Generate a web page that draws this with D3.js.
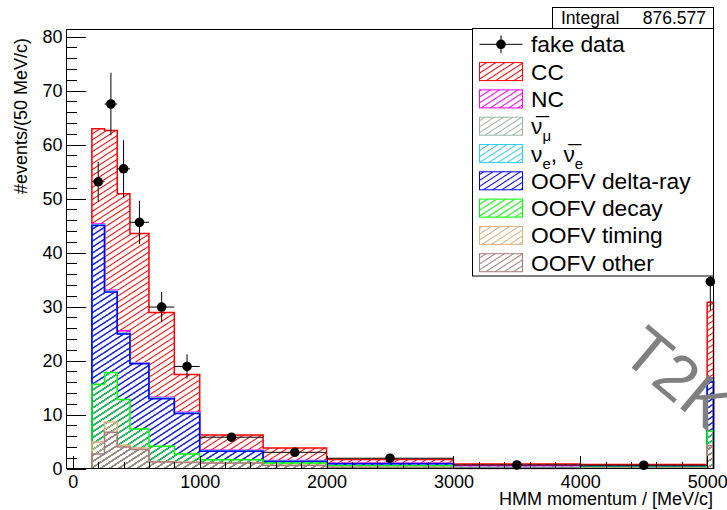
<!DOCTYPE html>
<html><head><meta charset="utf-8">
<script src="https://cdn.jsdelivr.net/npm/d3@7"></script>
<style>
body{margin:0;background:#fff}
svg{display:block}
text{font-family:"Liberation Sans",Arial,Helvetica,sans-serif}
</style>
</head><body>
<svg id="chart" width="727" height="510"></svg>
<script>
// ---------------- data ----------------
const binEdges = [150, 250, 350, 450, 600, 800, 1000, 1500, 2000, 3000, 4000, 5000, 5050];

// stack components, bottom -> top
const oofvOther    = [2.7, 6.7, 4.0, 3.5, 1.2, 1.1, 1.0, 0.55, 0.2, 0.02, 0.05, 4.2];
const oofvTiming   = [2.2, 1.9, 0.3, 0.3, 0.1, 0.05, 0.05, 0.05, 0.02, 0.01, 0.03, 0.1];
const oofvDecay    = [10.7, 9.2, 8.5, 3.5, 2.8, 1.55, 0.55, 0.4, 0.28, 0.02, 0.17, 2.6];
const oofvDelta    = [29.4, 14.9, 12.1, 12.1, 8.8, 7.5, 1.6, 0.3, 0.37, 0.1, 0.02, 9.1];
const nueNuebar    = [0.1, 0.1, 0.1, 0.05, 0.1, 0.05, 0.05, 0.02, 0.03, 0.02, 0.01, 0.6];
const numuBar      = [0.05, 0.05, 0.1, 0.05, 0.05, 0.05, 0.05, 0.03, 0.02, 0.03, 0.02, 0.05];
const ncEvents     = [0.15, 0.15, 0.4, 0.1, 0.15, 0.1, 0.1, 0.15, 0.08, 0.3, 0.05, 0.15];
const ccEvents     = [17.6, 29.6, 25.4, 23.9, 15.7, 7.0, 2.8, 2.3, 0.65, 0.35, 0.4, 14.0];

const stackSeries = [oofvOther, oofvTiming, oofvDecay, oofvDelta, nueNuebar, numuBar, ncEvents, ccEvents];
const stackColors = ["#a67c7c", "#dfb07f", "#00ff00", "#0000ff", "#33ccff", "#9db5a5", "#ff00ff", "#ff0000"];

// fake data points
const dataValues = [53.1, 67.5, 55.5, 45.6, 29.9, 18.9, 5.8, 3.0, 1.9, 0.65, 0.6, 34.6];
const dataErrors = [3.7, 5.8, 5.3, 4.0, 2.8, 2.25, 0.6, 0.5, 0.3, 0.2, 0.15, 5.3];

// axes
const xMajorTicks = [0, 1000, 2000, 3000, 4000, 5000];
const xMinorTicks = d3.range(0, 5001, 200).filter(v => v % 1000 !== 0);
const yMajorTicks = [0, 10, 20, 30, 40, 50, 60, 70, 80];
const yMinorTicks = d3.range(0, 81, 2).filter(v => v % 10 !== 0);

const legendLabels = ["fake data", "CC", "NC", "numubar", "nue", "OOFV delta-ray", "OOFV decay", "OOFV timing", "OOFV other"];
const integralText = "876.577";

// ---------------- drawing ----------------
const svg = d3.select("#chart");
const frame = {l: 66.5, r: 713.5, t: 29.5, b: 468.5};
const x = d3.scaleLinear().domain([-50, 5050]).range([frame.l, frame.r]);
const y = d3.scaleLinear().domain([0, 81.3]).range([frame.b, frame.t]);

// hatch patterns
const defs = svg.append("defs");
stackColors.forEach((c, i) => {
  const p = defs.append("pattern")
    .attr("id", "hatch" + i)
    .attr("patternUnits", "userSpaceOnUse")
    .attr("width", 12).attr("height", 5)
    .attr("patternTransform", "rotate(-33)");
  p.append("line").attr("x1", 0).attr("x2", 12).attr("y1", 2.5).attr("y2", 2.5)
    .attr("stroke", c).attr("stroke-width", 1);
});

// cumulative stack
const nb = binEdges.length - 1;
const cumul = [];
let run = new Array(nb).fill(0);
stackSeries.forEach(s => {
  run = run.map((v, i) => v + s[i]);
  cumul.push(run.slice());
});

const line = d3.line().x(d => x(d[0])).y(d => y(d[1]));
function stepPoints(tops) {
  const pts = [[binEdges[0], 0]];
  for (let i = 0; i < nb; i++) {
    pts.push([binEdges[i], tops[i]]);
    pts.push([binEdges[i + 1], tops[i]]);
  }
  pts.push([binEdges[nb], 0]);
  return pts;
}

const gHist = svg.append("g");
for (let k = cumul.length - 1; k >= 0; k--) {
  const pts = stepPoints(cumul[k]);
  gHist.append("path").attr("d", line(pts) + "Z")
    .attr("fill", "url(#hatch" + k + ")").attr("stroke", "none");
  gHist.append("path").attr("d", line(pts))
    .attr("fill", "none").attr("stroke", stackColors[k]).attr("stroke-width", 1.5);
}

// frame
svg.append("rect").attr("x", frame.l).attr("y", frame.t)
  .attr("width", frame.r - frame.l).attr("height", frame.b - frame.t)
  .attr("fill", "none").attr("stroke", "#000").attr("stroke-width", 1);

// axes
const fontPx = 18;
const yAxis = svg.append("g").attr("transform", `translate(${frame.l},0)`)
  .call(d3.axisLeft(y).tickValues(yMajorTicks).tickSize(-19.5).tickSizeOuter(0).tickPadding(4).tickFormat(d3.format("d")));
const yAxisMinor = svg.append("g").attr("transform", `translate(${frame.l},0)`)
  .call(d3.axisLeft(y).tickValues(yMinorTicks).tickSize(-10).tickSizeOuter(0).tickFormat(""));
const xAxis = svg.append("g").attr("transform", `translate(0,${frame.b})`)
  .call(d3.axisBottom(x).tickValues(xMajorTicks).tickSize(-13).tickSizeOuter(0).tickPadding(7).tickFormat(d3.format("d")));
const xAxisMinor = svg.append("g").attr("transform", `translate(0,${frame.b})`)
  .call(d3.axisBottom(x).tickValues(xMinorTicks).tickSize(-6.5).tickSizeOuter(0).tickFormat(""));
[yAxis, yAxisMinor, xAxis, xAxisMinor].forEach(g => {
  g.select(".domain").remove();
  g.selectAll("line").attr("stroke", "#000").attr("shape-rendering", "crispEdges");
  g.selectAll("text").attr("font-size", fontPx).attr("fill", "#000")
    .attr("font-family", '"Liberation Sans",Arial,sans-serif');
});

// axis titles
svg.append("text").attr("transform", "translate(26.5,38) rotate(-90)")
  .attr("text-anchor", "end").attr("font-size", 18).text("#events/(50 MeV/c)");
svg.append("text").attr("x", 713).attr("y", 504.5)
  .attr("text-anchor", "end").attr("font-size", 18).text("HMM momentum / [MeV/c]");

// data points
const gData = svg.append("g");
dataValues.forEach((v, i) => {
  const e0 = binEdges[i], e1 = binEdges[i + 1], c = (e0 + e1) / 2, err = dataErrors[i];
  gData.append("line").attr("x1", x(e0)).attr("x2", x(e1)).attr("y1", y(v)).attr("y2", y(v))
    .attr("stroke", "#000").attr("stroke-width", 1);
  gData.append("line").attr("x1", x(c)).attr("x2", x(c)).attr("y1", y(v - err)).attr("y2", y(v + err))
    .attr("stroke", "#000").attr("stroke-width", 1);
  gData.append("circle").attr("cx", x(c)).attr("cy", y(v)).attr("r", 4.8).attr("fill", "#000");
});

// stats box
svg.append("rect").attr("x", 552.5).attr("y", 7.5).attr("width", 161).attr("height", 21)
  .attr("fill", "#fff").attr("stroke", "#000");
svg.append("text").attr("x", 561).attr("y", 23.5).attr("font-size", 17.5).text("Integral");
svg.append("text").attr("x", 706).attr("y", 23.5).attr("font-size", 17.5)
  .attr("text-anchor", "end").text(integralText);

// legend
const lg = svg.append("g");
lg.append("rect").attr("x", 472.5).attr("y", 28.5).attr("width", 241).attr("height", 247.5)
  .attr("fill", "#fff").attr("stroke", "#000");
const rowY = i => 44.3 + i * 27.3;
const textX = 531, boxX0 = 479.5, boxX1 = 522.5, lgFont = 22.8;
// data entry
lg.append("line").attr("x1", boxX0).attr("x2", boxX1).attr("y1", rowY(0)).attr("y2", rowY(0)).attr("stroke", "#000");
lg.append("line").attr("x1", 501).attr("x2", 501).attr("y1", rowY(0) - 9).attr("y2", rowY(0) + 9).attr("stroke", "#000");
lg.append("circle").attr("cx", 501).attr("cy", rowY(0)).attr("r", 4.8).attr("fill", "#000");
lg.append("text").attr("x", textX).attr("y", rowY(0) + 8).attr("font-size", lgFont).text(legendLabels[0]);
// stacked entries in legend order (top of stack first)
const legendOrder = [7, 6, 5, 4, 3, 2, 1, 0];
legendOrder.forEach((k, j) => {
  const cy = rowY(j + 1);
  lg.append("rect").attr("x", boxX0).attr("y", cy - 9).attr("width", boxX1 - boxX0).attr("height", 18)
    .attr("fill", "url(#hatch" + k + ")").attr("stroke", stackColors[k]).attr("stroke-width", 1);
  const t = lg.append("text").attr("x", textX).attr("y", cy + 8).attr("font-size", lgFont);
  const lab = legendLabels[j + 1];
  if (lab === "numubar") {
    t.append("tspan").text("\u03BD\u0305");
    t.append("tspan").attr("dy", 7).attr("font-size", 15).text("\u03BC");
  } else if (lab === "nue") {
    t.append("tspan").text("\u03BD");
    t.append("tspan").attr("dy", 7).attr("font-size", 15).text("e");
    t.append("tspan").attr("dy", -7).text(", \u03BD\u0305");
    t.append("tspan").attr("dy", 7).attr("font-size", 15).text("e");
  } else {
    t.text(lab);
  }
});

// watermark
svg.append("text").attr("transform", "translate(619,357) rotate(40)")
  .attr("font-size", 64).attr("fill", "#808080").text("T2K");
</script>
</body></html>
